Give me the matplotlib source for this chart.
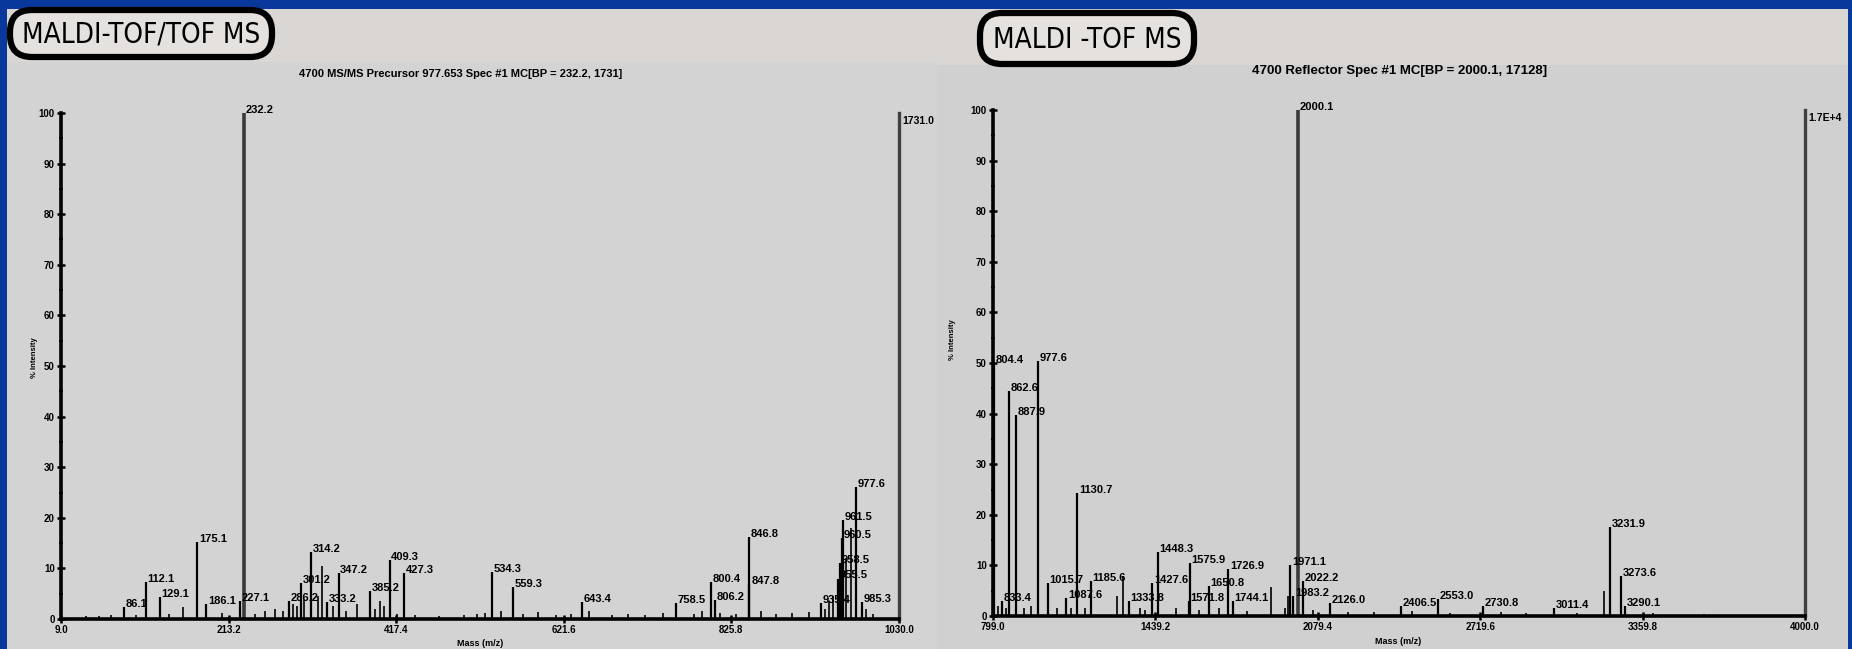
import numpy as np
import matplotlib.pyplot as plt
from matplotlib import font_manager
from matplotlib.patches import Rectangle, FancyBboxPatch

W, H = 1852, 649

# ---- MS/MS spectrum (left) ----
msms_title = "4700 MS/MS Precursor 977.653 Spec #1 MC[BP = 232.2, 1731]"
msms_xticks = [9.0, 213.2, 417.4, 621.6, 825.8, 1030.0]
msms_mz = [86.1, 112.1, 129.1, 175.1, 186.1, 227.1, 232.2, 286.2, 301.2, 314.2,
           333.2, 347.2, 385.2, 409.3, 427.3, 534.3, 559.3, 643.4, 758.5, 800.4,
           806.2, 846.8, 847.8, 935.4, 955.5, 958.5, 960.5, 961.5, 977.6, 985.3]
msms_int = [2.4, 7.3, 4.3, 15.3, 3.0, 3.5, 100.0, 3.5, 7.2, 13.2,
            3.3, 9.0, 5.5, 11.7, 9.0, 9.3, 6.3, 3.4, 3.2, 7.3,
            3.8, 16.2, 7.0, 3.2, 8.0, 11.0, 16.0, 19.5, 26.0, 3.4]
msms_minor_mz = [40, 55, 70, 100, 140, 158, 205, 245, 258, 270, 280, 292, 296, 305,
                 322, 327, 340, 356, 370, 392, 398, 402, 418, 440, 470, 500, 516,
                 525, 545, 572, 590, 612, 630, 652, 680, 700, 720, 742, 780, 790,
                 812, 832, 862, 880, 900, 920, 940, 945, 950, 966, 972, 990, 998]
msms_minor_int = [0.5, 0.6, 0.8, 0.7, 1.0, 2.4, 1.2, 1.0, 1.5, 2.0, 1.5, 3.0, 2.5, 4.0,
                  4.5, 10.5, 2.5, 1.5, 3.0, 2.0, 3.5, 2.5, 1.0, 0.8, 0.6, 0.8, 1.0,
                  1.2, 1.5, 1.0, 1.4, 0.8, 1.0, 1.6, 0.8, 1.0, 0.8, 1.2, 1.0, 1.6,
                  1.2, 1.0, 1.5, 1.0, 1.2, 1.4, 2.0, 3.5, 4.5, 12.0, 18.0, 2.0, 1.0]
msms_scale = "1731.0"

# ---- MS reflector spectrum (right) ----
ms_title = "4700 Reflector Spec #1 MC[BP = 2000.1, 17128]"
ms_xticks = [799.0, 1439.2, 2079.4, 2719.6, 3359.8, 4000.0]
ms_mz = [804.4, 833.4, 862.6, 887.9, 977.6, 1015.7, 1087.6, 1130.7, 1185.6,
         1333.8, 1427.6, 1448.3, 1571.8, 1575.9, 1650.8, 1726.9, 1744.1,
         1971.1, 1983.2, 2000.1, 2022.2, 2126.0, 2406.5, 2553.0, 2730.8,
         3011.4, 3231.9, 3273.6, 3290.1]
ms_int = [50.0, 3.0, 44.4, 39.8, 50.3, 6.5, 3.5, 24.3, 7.0,
          3.0, 6.5, 12.7, 3.0, 10.5, 6.0, 9.3, 3.0,
          10.0, 4.0, 100.0, 7.0, 2.5, 2.0, 3.3, 2.0,
          1.5, 17.6, 7.9, 2.0]
ms_minor_mz = [820, 850, 920, 950, 1050, 1105, 1160, 1288, 1312, 1380, 1400,
               1520, 1610, 1690, 1800, 1893, 1950, 1960, 2060, 2200, 2300,
               2450, 2600, 2800, 2900, 3100, 3207, 3400, 3600]
ms_minor_int = [2.0, 1.5, 1.5, 2.0, 1.5, 1.5, 1.5, 4.0, 8.0, 1.5, 1.2,
                1.5, 1.2, 1.5, 1.0, 5.7, 1.5, 4.0, 1.2, 0.8, 0.8,
                1.0, 0.6, 0.8, 0.6, 0.5, 5.0, 0.5, 0.4]
ms_scale = "1.7E+4"

blue = "#08389c"
panel = "#d3d3d3"
header = "#dad6d3"

plt.rcParams["font.family"] = ["Liberation Sans", "DejaVu Sans"]

# a condensed face for the boxed headings if one is installed
cond = [f for f in font_manager.fontManager.ttflist
        if "Narrow" in f.name or f.stretch in ("condensed", "semi-condensed")]
box_font = dict(family=cond[0].name, fontstretch=cond[0].stretch) if cond else dict(family="Liberation Sans")

fig = plt.figure(figsize=(W / 100, H / 100), dpi=100, facecolor=blue)

# overlay in pixel coordinates (y down) for panels, ovals and titles
ov = fig.add_axes([0, 0, 1, 1])
ov.set_xlim(0, W)
ov.set_ylim(H, 0)
ov.axis("off")
ov.set_zorder(0)

ov.add_patch(Rectangle((7, 9), 930, H - 9, color=panel, lw=0))
ov.add_patch(Rectangle((937, 9), 911, H - 9, color="#d0d0d0", lw=0))
ov.add_patch(Rectangle((7, 9), 930, 53, color=header, lw=0))
ov.add_patch(Rectangle((937, 9), 911, 56, color=header, lw=0))

renderer = fig.canvas.get_renderer()
for x0, y0, w, h, txt in [(10, 10, 262, 47, "MALDI-TOF/TOF MS"),
                          (980, 13, 214, 51, "MALDI -TOF MS")]:
    ov.add_patch(FancyBboxPatch((x0, y0), w, h, boxstyle="round,pad=0,rounding_size=22",
                                fc="#e4e1de", ec="black", lw=4.5))
    t = ov.text(x0 + w / 2, y0 + h / 2 + 1, txt, ha="center", va="center",
                fontsize=20, color="black", **box_font)
    # shrink the heading so it sits inside its box
    tw = t.get_window_extent(renderer).width
    t.set_fontsize(20 * min(1.0, (w - 20) / tw))

ov.text(461, 74, msms_title, ha="center", va="center", fontsize=8, fontweight="bold")
ov.text(1400, 71, ms_title, ha="center", va="center", fontsize=9.5, fontweight="bold")
ov.text(35, 358, "% Intensity", rotation=90, ha="center", va="center", fontsize=5.5, fontweight="bold")
ov.text(953, 340, "% Intensity", rotation=90, ha="center", va="center", fontsize=5.5, fontweight="bold")
ov.text(480, 643, "Mass (m/z)", ha="center", va="center", fontsize=6.5, fontweight="bold")
ov.text(1398, 641, "Mass (m/z)", ha="center", va="center", fontsize=6.5, fontweight="bold")


def spectrum(box, xticks, mz, inten, minor_mz, minor_int, scale_label):
    x0, x1, ybase, ytop = box
    ax = fig.add_axes([x0 / W, (H - ybase) / H, (x1 - x0) / W, (ybase - ytop) / H])
    ax.set_zorder(1)
    ax.patch.set_alpha(0)
    ax.set_xlim(xticks[0], xticks[-1])
    ax.set_ylim(0, 100)

    ax.vlines(minor_mz, 0, minor_int, colors="black", lw=1.2)
    mz = np.array(mz)
    inten = np.array(inten)
    base = inten >= 99
    ax.vlines(mz[~base], 0, inten[~base], colors="black", lw=1.6)
    ax.vlines(mz[base], 0, inten[base], colors="#3a3a3a", lw=2.6)
    span = xticks[-1] - xticks[0]
    for m, v in zip(mz, inten):
        ax.text(m + span * 0.002, v + 0.6, f"{m:.1f}", ha="left", va="center",
                fontsize=8, fontweight="bold", clip_on=False)
    ax.text(xticks[-1] + span * 0.004, 98.5, scale_label, ha="left", va="center",
            fontsize=7.5, fontweight="bold", clip_on=False)

    for s in ["left", "bottom"]:
        ax.spines[s].set_linewidth(2.6)
        ax.spines[s].set_color("black")
    ax.spines["right"].set_linewidth(2.4)
    ax.spines["right"].set_color("#404040")
    ax.spines["top"].set_visible(False)

    ax.set_xticks(xticks)
    ax.set_xticklabels([f"{t:.1f}" for t in xticks])
    ax.set_yticks(np.arange(0, 101, 10))
    ax.set_yticks(np.arange(0, 101, 5), minor=True)
    ax.tick_params(axis="both", which="major", direction="inout", length=6, width=1.8,
                   labelsize=7, pad=1.5)
    ax.tick_params(axis="y", which="minor", direction="inout", length=3.5, width=1.4)
    for lbl in ax.get_xticklabels() + ax.get_yticklabels():
        lbl.set_fontweight("bold")
    return ax


spectrum((61, 899, 619, 113), msms_xticks, msms_mz, msms_int,
         msms_minor_mz, msms_minor_int, msms_scale)
spectrum((993, 1805, 616, 110), ms_xticks, ms_mz, ms_int,
         ms_minor_mz, ms_minor_int, ms_scale)

fig.savefig("out.png", dpi=100, facecolor=blue)
